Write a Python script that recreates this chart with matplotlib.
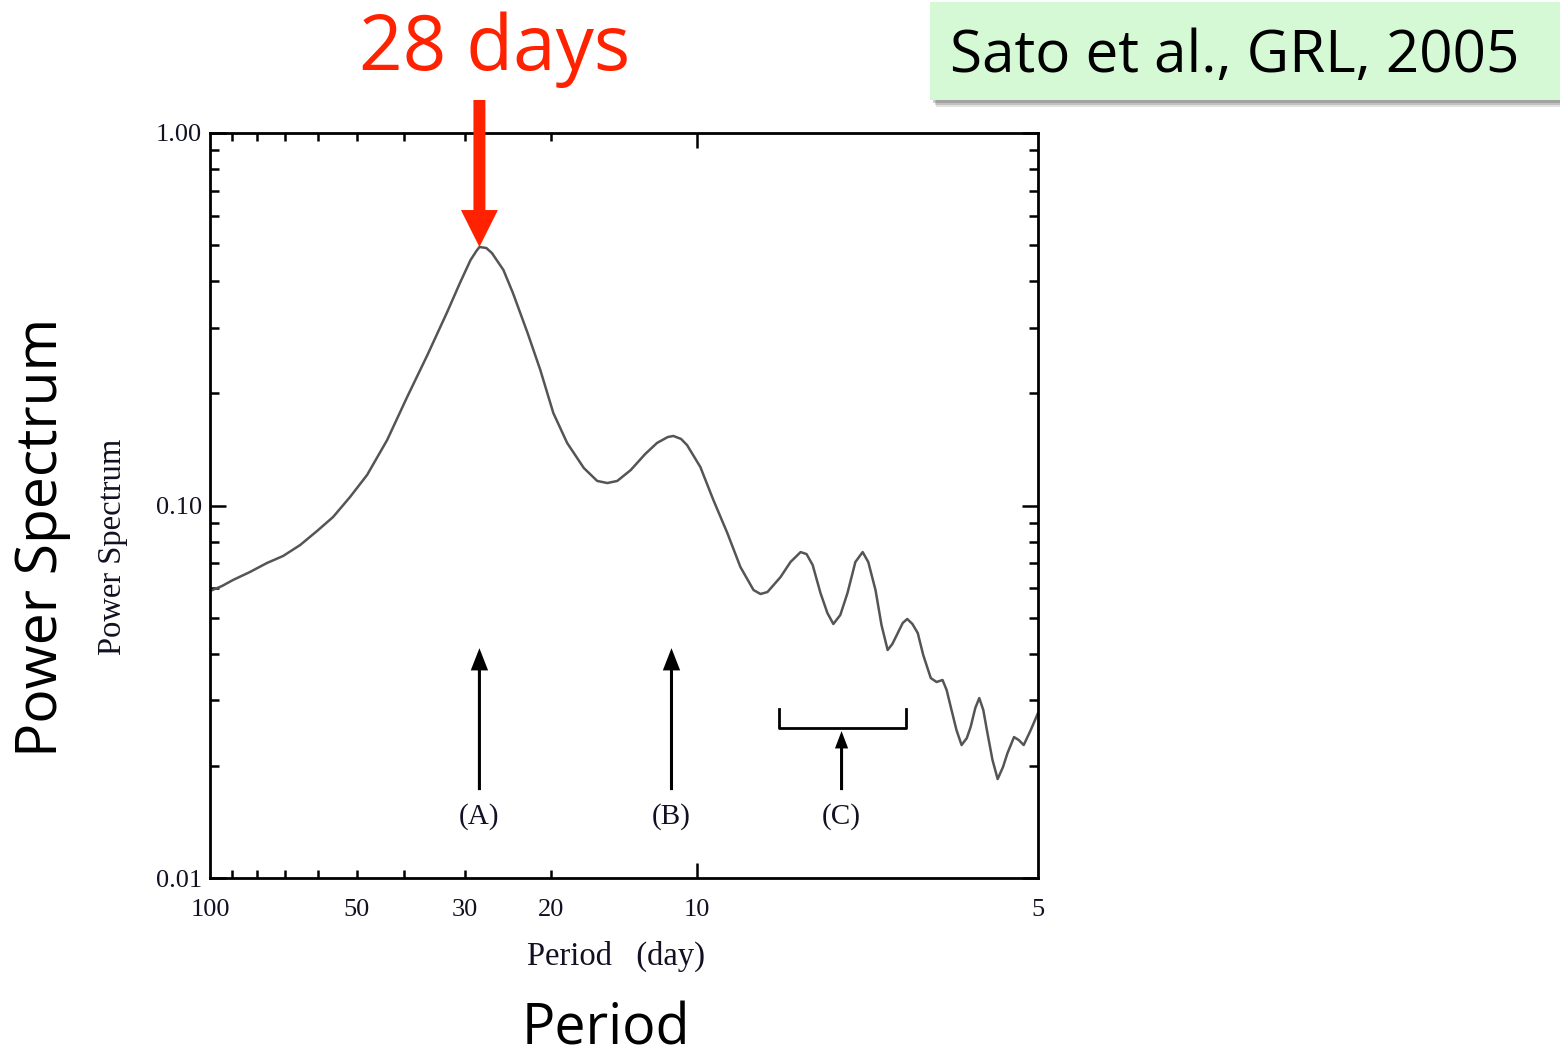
import numpy as np
import matplotlib
matplotlib.use("Agg")
import matplotlib.pyplot as plt
from matplotlib.patches import Rectangle
from matplotlib.ticker import FixedLocator, LogLocator, NullFormatter

plt.rcParams["font.family"] = "Liberation Serif"
SANS = "Open Sans"
RED = "#FF2200"
INK = "#111122"

# power spectrum vs period (days)
period = [100, 94.5, 89.7, 82.8, 76.4, 70.8, 65.3, 60.3, 55.9, 51.6,
          47.6, 43.3, 39.4, 35.8, 32.6, 30.7, 29.2, 28.4, 28.0, 27.1,
          26.4, 25.0, 23.9, 22.3, 21.0, 19.75, 18.5, 17.1, 16.05, 15.3,
          14.6, 13.7, 12.8, 12.1, 11.5, 11.2, 10.8, 10.5, 9.86, 9.27,
          8.68, 8.16, 7.67, 7.42, 7.18, 6.75, 6.44, 6.14, 5.97, 5.80,
          5.59, 5.41, 5.26, 5.09, 4.92, 4.74, 4.58, 4.46, 4.31, 4.19,
          4.07, 3.98, 3.88, 3.79, 3.71, 3.62, 3.53, 3.44, 3.32, 3.23,
          3.14, 3.08, 3.02, 2.94, 2.87, 2.80, 2.75, 2.69, 2.64, 2.59,
          2.54, 2.48, 2.42, 2.36, 2.31, 2.24, 2.19, 2.14, 2.07, 2.00]
power = [0.05894, 0.06079, 0.06310, 0.06630, 0.07009, 0.07319, 0.07834, 0.08542, 0.09314, 0.1054,
         0.1208, 0.1499, 0.1955, 0.2535, 0.3308, 0.3957, 0.4560, 0.4822, 0.4943, 0.4912,
         0.4763, 0.4288, 0.3719, 0.2904, 0.2311, 0.1772, 0.1472, 0.1261, 0.1164, 0.1149,
         0.1164, 0.1245, 0.1374, 0.1472, 0.1527, 0.1537, 0.1509, 0.1453, 0.1269, 0.1034,
         0.08436, 0.06839, 0.05931, 0.05787, 0.05859, 0.06427, 0.07053, 0.07499, 0.07407, 0.06923,
         0.05823, 0.05146, 0.04808, 0.05083, 0.05823, 0.07053, 0.07499, 0.07053, 0.05931, 0.04778,
         0.04094, 0.04249, 0.04546, 0.04838, 0.04959, 0.04808, 0.04546, 0.03969, 0.03443, 0.03359,
         0.03401, 0.03197, 0.02877, 0.02496, 0.02275, 0.02375, 0.02543, 0.02860, 0.03042, 0.02825,
         0.02450, 0.02074, 0.01844, 0.01986, 0.02166, 0.02390, 0.02346, 0.02275, 0.02496, 0.02773]

# axis ticks (right edge of the period axis carries the "5" label)
xtick_pos = [100, 50, 30, 20, 10, 2]
xtick_lab = ["100", "50", "30", "20", "10", "5"]
xminor_pos = [90, 80, 70, 60, 40]
ytick_pos = [0.01, 0.1, 1.0]
ytick_lab = ["0.01", "0.10", "1.00"]

# marked periods (A), (B) and band (C)
mark_lab = ["(A)", "(B)", "(C)"]
mark_period = [28.0, 11.3, 5.06]
band_c = [6.79, 3.74]

fig = plt.figure(figsize=(15.6, 10.58), dpi=100)
ax = fig.add_axes([0.1346, 0.1701, 0.5308, 0.7042])
ax.plot(period, power, color="#555555", lw=1.8, solid_joinstyle="round")
ax.set_xscale("log")
ax.set_yscale("log")
ax.set_xlim(100, 2)
ax.set_ylim(0.01, 1.0)

ax.set_xticks(xtick_pos, xtick_lab)
ax.xaxis.set_minor_locator(FixedLocator(xminor_pos))
ax.xaxis.set_minor_formatter(NullFormatter())
ax.set_yticks(ytick_pos, ytick_lab)
ax.yaxis.set_minor_locator(LogLocator(base=10, subs=np.arange(2, 10)))
ax.yaxis.set_minor_formatter(NullFormatter())

for s in ax.spines.values():
    s.set_linewidth(2.0)
ax.tick_params(which="both", direction="in", top=True, right=True, width=1.8,
               labelcolor=INK, labelsize=19)
ax.tick_params(axis="x", which="both", length=5.8, pad=15)
ax.tick_params(axis="y", which="major", length=11.5, pad=6)
ax.tick_params(axis="y", which="minor", length=6.5)
for pos, t in zip(xtick_pos, ax.xaxis.get_major_ticks()):
    size = 10.8 if pos == 10 else (0 if pos in (100, 2) else 5.8)
    t.tick1line.set_markersize(size)
    t.tick2line.set_markersize(size)

ax.set_xlabel("Period   (day)", fontsize=23.5, color=INK)
ax.xaxis.set_label_coords(0.49, -0.105)
ax.xaxis.label.set_verticalalignment("center")
ax.set_ylabel("Power Spectrum", fontsize=23.5, color=INK)
ax.yaxis.set_label_coords(-0.117, 0.445)
ax.yaxis.label.set_verticalalignment("center")

# arrows under the spectral features
tips = [0.0414, 0.0414, 0.0248]
heads = ["simple,head_length=1.6,head_width=1.25,tail_width=0.22",
         "simple,head_length=1.6,head_width=1.25,tail_width=0.22",
         "simple,head_length=1.25,head_width=0.95,tail_width=0.22"]
for lab, xp, tip, hs in zip(mark_lab, mark_period, tips, heads):
    ax.annotate("", xy=(xp, tip), xytext=(xp, 0.01722),
                arrowprops=dict(arrowstyle=hs, mutation_scale=10, color="black",
                                lw=0, shrinkA=0, shrinkB=0))
    ax.text(xp, 0.01458, lab, ha="center", va="center", fontsize=21, color=INK)
ax.plot([band_c[0], band_c[0], band_c[1], band_c[1]],
        [0.02843, 0.02527, 0.02527, 0.02843], color="black", lw=2.0)

# red pointer to the main peak
ipk = int(np.argmax(power))
ax.annotate("", xy=(period[ipk], power[ipk]), xytext=(period[ipk], 0.9055),
            textcoords=("data", "figure fraction"), annotation_clip=False,
            arrowprops=dict(arrowstyle="simple,head_length=2.66,head_width=2.66,tail_width=0.86",
                            mutation_scale=10, color=RED, lw=0, shrinkA=0, shrinkB=0))
fig.text(0.3173, 0.9338, f"{period[ipk]:.0f} days", color=RED, fontsize=55,
         family=SANS, ha="center", va="baseline")

# slide labels
fig.text(0.027, 0.4924, "Power Spectrum", rotation=90, fontsize=41, family=SANS,
         ha="center", va="center", color="black")
fig.text(0.3885, 0.013, "Period", fontsize=40, family=SANS, ha="center",
         va="baseline", color="black")

# reference box with a soft shadow
for dx, dy, a in [(0.004, -0.007, 0.18), (0.003, -0.005, 0.25), (0.002, -0.003, 0.3)]:
    fig.add_artist(Rectangle((0.5962 + dx, 0.9055 + dy), 0.42, 0.0925,
                             transform=fig.transFigure, facecolor="#606060",
                             edgecolor="none", alpha=a))
fig.add_artist(Rectangle((0.5962, 0.9055), 0.42, 0.0925, transform=fig.transFigure,
                         facecolor="#D4F9D4", edgecolor="none"))
fig.text(0.609, 0.946, "Sato et al., GRL, 2005", fontsize=42, family=SANS,
         ha="left", va="center", color="black")

fig.savefig("out.png", dpi=100)
